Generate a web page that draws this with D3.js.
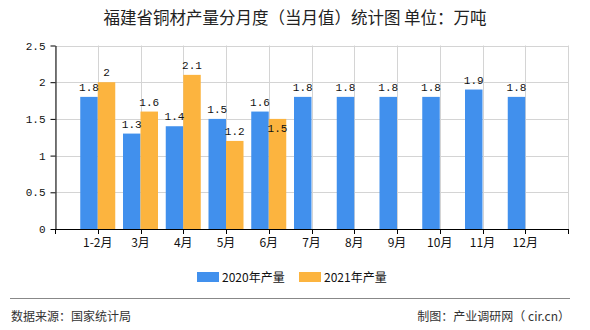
<!DOCTYPE html>
<html><head><meta charset="utf-8">
<script src="https://cdn.jsdelivr.net/npm/d3@7/dist/d3.min.js"></script>
<style>html,body{margin:0;padding:0;background:#fff;}svg{display:block;}</style>
</head><body>
<script>
const categories = ["1-2月","3月","4月","5月","6月","7月","8月","9月","10月","11月","12月"];
const series2020 = [1.8,1.3,1.4,1.5,1.6,1.8,1.8,1.8,1.8,1.9,1.8];
const series2021 = [2,1.6,2.1,1.2,1.5];
const yTicks = [0,0.5,1,1.5,2,2.5];
const yTickLabels = ["0","0.5","1","1.5","2","2.5"];
const seriesNames = ["2020年产量","2021年产量"];
const colors = ["#4190ED","#FCB43F"];
const title = "福建省铜材产量分月度（当月值）统计图 单位：万吨";
const sourceText = "数据来源：国家统计局";
const makerText = "制图：产业调研网（ cir.cn）";

const W=590,H=330;
const svg=d3.select("body").append("svg").attr("width",W).attr("height",H);
const pL=55,pR=568,pT=45.5,pB=229;
const x=d3.scalePoint().domain(categories).range([pL,pR]).padding(1);
const y=d3.scaleLinear().domain([0,2.5]).range([pB,pT]);
const bw=17.5;

// title
svg.append("text").attr("x",W/2).attr("y",24).attr("text-anchor","middle")
  .attr("font-family","'Noto Sans CJK SC',sans-serif").attr("font-size",16.5).attr("fill","#222").text(title);

// grid
const vpos=[pL,...categories.map(c=>x(c)),pR];
svg.append("g").selectAll("line").data(vpos).join("line")
  .attr("x1",d=>Math.round(d)+0.5).attr("x2",d=>Math.round(d)+0.5).attr("y1",pT).attr("y2",pB)
  .attr("stroke","#d4d4d4").attr("stroke-width",1);
svg.append("g").selectAll("line").data(yTicks.slice(1)).join("line")
  .attr("x1",pL).attr("x2",pR).attr("y1",d=>Math.round(y(d))+0.5).attr("y2",d=>Math.round(y(d))+0.5)
  .attr("stroke","#d4d4d4").attr("stroke-width",1);

// bars
const g=svg.append("g");
g.selectAll("rect.s0").data(series2020).join("rect").attr("class","s0")
  .attr("x",(d,i)=>x(categories[i])-bw).attr("width",bw)
  .attr("y",d=>y(d)).attr("height",d=>pB-y(d)).attr("fill",colors[0]);
g.selectAll("rect.s1").data(series2021).join("rect").attr("class","s1")
  .attr("x",(d,i)=>x(categories[i])).attr("width",bw)
  .attr("y",d=>y(d)).attr("height",d=>pB-y(d)).attr("fill",colors[1]);

// labels
const lf="'Liberation Mono','DejaVu Sans Mono',monospace";
const lab0=series2020.map((d,i)=>({v:d,x:x(categories[i])-bw/2,y:y(d)-6}));
const lab1=series2021.map((d,i)=>{
  let ly=y(d)-6;
  const other=lab0[i];
  if(Math.abs(other.y-ly)<12){ ly=y(d)+13; }
  return {v:d,x:x(categories[i])+bw/2,y:ly};
});
svg.append("g").selectAll("text").data(lab0.concat(lab1)).join("text")
  .attr("x",d=>d.x).attr("y",d=>d.y).attr("text-anchor","middle")
  .attr("font-family",lf).attr("font-size",11).attr("fill","#111").text(d=>String(d.v));

// axes
const ya=d3.axisLeft(y).tickValues(yTicks).tickFormat((d,i)=>yTickLabels[i]).tickSize(5).tickSizeOuter(0);
const yg=svg.append("g").attr("transform",`translate(${pL+0.5},0)`).call(ya);
yg.select(".domain").attr("stroke","#000");
yg.selectAll("text").attr("font-family",lf).attr("font-size",11).attr("fill","#111").attr("dx",-2);

const xa=svg.append("g");
xa.append("line").attr("x1",pL).attr("x2",pR+1).attr("y1",pB+0.5).attr("y2",pB+0.5).attr("stroke","#000");
xa.selectAll("line.t").data(vpos).join("line").attr("class","t")
  .attr("x1",d=>Math.round(d)+0.5).attr("x2",d=>Math.round(d)+0.5).attr("y1",pB).attr("y2",pB+5).attr("stroke","#000");
xa.selectAll("text").data(categories).join("text")
  .attr("x",d=>x(d)).attr("y",pB+17.5).attr("text-anchor","middle")
  .attr("font-family","'Noto Sans CJK SC',sans-serif").attr("font-size",12).attr("fill","#111").text(d=>d);

// legend
const lg=svg.append("g");
const lx=[197,299];
seriesNames.forEach((n,i)=>{
  lg.append("rect").attr("x",lx[i]).attr("y",272).attr("width",22).attr("height",10).attr("fill",colors[i]);
  lg.append("text").attr("x",lx[i]+25).attr("y",281.5).attr("font-family","'Noto Sans CJK SC',sans-serif")
    .attr("font-size",12).attr("fill","#111").text(n);
});

// footer
svg.append("line").attr("x1",10).attr("x2",570).attr("y1",298.5).attr("y2",298.5).attr("stroke","#888").attr("stroke-width",1);
svg.append("text").attr("x",11).attr("y",320.5).attr("font-family","'Noto Sans CJK SC',sans-serif")
  .attr("font-size",12).attr("fill","#333").text(sourceText);
svg.append("text").attr("x",570).attr("y",320.5).attr("text-anchor","end").attr("font-family","'Noto Sans CJK SC',sans-serif")
  .attr("font-size",12).attr("fill","#333").text(makerText);
</script>
</body></html>
